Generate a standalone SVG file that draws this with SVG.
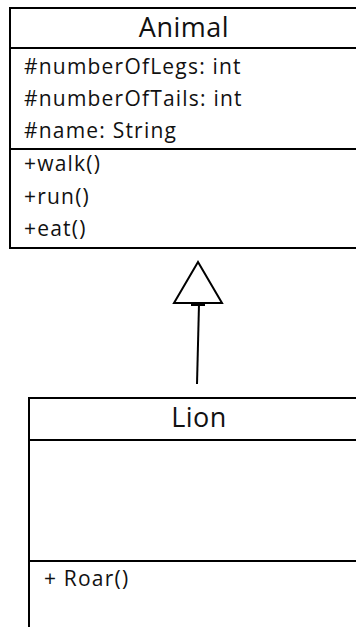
<svg xmlns="http://www.w3.org/2000/svg" width="356" height="627" viewBox="0 0 356 627">
<style>
.box{fill:#fff;stroke:#000;stroke-width:2}
.ln{stroke:#000;stroke-width:2;fill:none}
.t{font-family:"Open Sans","Lato",sans-serif;fill:#111}
.title{font-size:27px;letter-spacing:0.5px;text-anchor:middle}
.m{font-size:21px;letter-spacing:1.2px}
</style>
<rect width="356" height="627" fill="#fff"/>
<g id="animal">
<rect class="box" x="10" y="8" width="360" height="240"/>
<line class="ln" x1="10" y1="48" x2="360" y2="48"/>
<line class="ln" x1="10" y1="149" x2="360" y2="149"/>
<text class="t title" x="184" y="37">Animal</text>
<text class="t m" x="24" y="74">#numberOfLegs: int</text>
<text class="t m" x="24" y="106">#numberOfTails: int</text>
<text class="t m" x="24" y="138">#name: String</text>
<text class="t m" x="24" y="171">+walk()</text>
<text class="t m" x="24" y="204">+run()</text>
<text class="t m" x="24" y="236">+eat()</text>
</g>
<g id="lion">
<path class="ln" d="M29 640 V398 H360"/>
<line class="ln" x1="29" y1="440" x2="360" y2="440"/>
<line class="ln" x1="29" y1="561" x2="360" y2="561"/>
<text class="t title" x="199" y="427">Lion</text>
<text class="t m" x="44" y="586">+ Roar()</text>
</g>
<g id="connectors">
<line class="ln" x1="197" y1="384" x2="199" y2="304"/>
<polygon class="box" points="198,262 174,303 222,303"/>
<line class="ln" x1="191" y1="305" x2="205" y2="305"/>
</g>
</svg>
